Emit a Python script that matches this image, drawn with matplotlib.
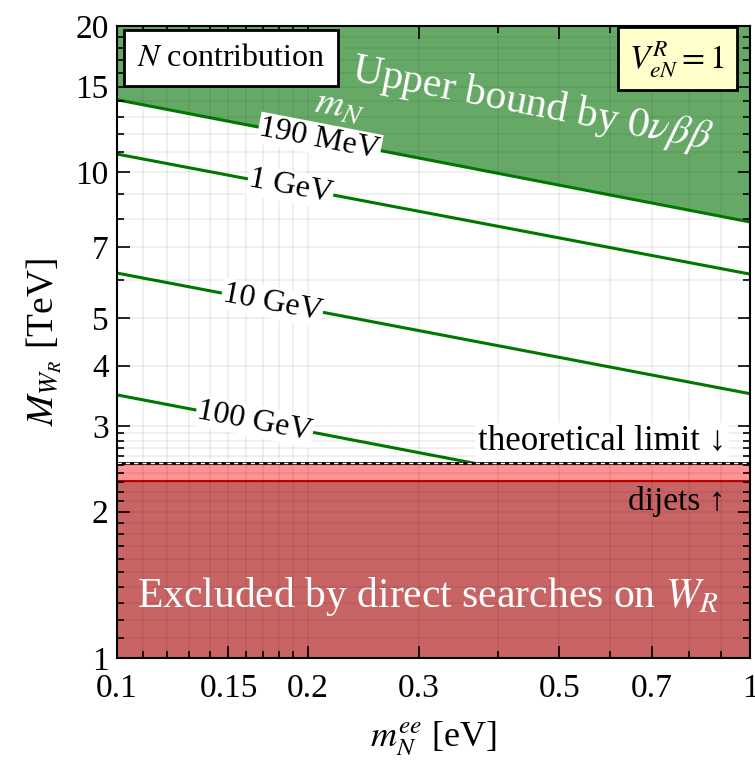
import numpy as np
import matplotlib
matplotlib.use('Agg')
import matplotlib.pyplot as plt
from matplotlib.ticker import FixedLocator, FixedFormatter, NullFormatter

plt.rcParams['font.family'] = ['Liberation Serif', 'DejaVu Serif']
plt.rcParams['mathtext.fontset'] = 'stix'

# data (line values at m_ee = 0.1 and 1 eV)
m_ee = np.array([0.1, 1.0])
mw_190MeV = np.array([14.1, 7.9])
mw_1GeV = np.array([10.9, 6.17])
mw_10GeV = np.array([6.2, 3.5])
mw_100GeV = np.array([3.48, 1.96])
line_names = ['190 MeV', '1 GeV', '10 GeV', '100 GeV']
label_x = [0.209, 0.188, 0.176, 0.165]   # where the labels sit on the lines

theory_limit = 2.52   # TeV
dijets = 2.31         # TeV

xticks = [0.1, 0.15, 0.2, 0.3, 0.5, 0.7, 1]
xtick_labels = ['0.1', '0.15', '0.2', '0.3', '0.5', '0.7', '1']
yticks = [1, 2, 3, 4, 5, 7, 10, 15, 20]

green_fill = '#66a966'
green_line = '#007800'
red_dark = '#c96464'
red_light = '#ff9292'

fig = plt.figure(figsize=(7.55, 7.61), dpi=100)
ax = fig.add_axes([0.155, 0.1354, 0.8384, 0.8304])
ax.set_xscale('log')
ax.set_yscale('log')
ax.set_xlim(0.1, 1)
ax.set_ylim(1, 20)

# upper bound region above the 190 MeV line
ax.fill_between(m_ee, mw_190MeV, 20, color=green_fill, lw=0, zorder=1)

lines = [mw_190MeV, mw_1GeV, mw_10GeV, mw_100GeV]

def slope_angle(y):
    # angle of a power-law line on screen
    p0 = ax.transData.transform((m_ee[0], y[0]))
    p1 = ax.transData.transform((m_ee[1], y[1]))
    return np.degrees(np.arctan2(p1[1] - p0[1], p1[0] - p0[0]))

for y, name, lx in zip(lines, line_names, label_x):
    # cut line at theoretical limit (interpolate in log space)
    ly = np.log10(y)
    lxs = np.log10(m_ee)
    if y[1] < theory_limit:
        x_end = 10 ** np.interp(np.log10(theory_limit), ly[::-1], lxs[::-1])
        xs = np.array([m_ee[0], x_end])
        ys = np.array([y[0], theory_limit])
    else:
        xs, ys = m_ee, y
    ax.plot(xs, ys, color=green_line, lw=2.2, zorder=1.5)
    ly_at = 10 ** np.interp(np.log10(lx), lxs, ly)
    ax.text(lx, ly_at, name, rotation=slope_angle(y), rotation_mode='anchor',
            ha='center', va='center', fontsize=23, zorder=5,
            bbox=dict(facecolor='white', edgecolor='none', pad=1))

ang = slope_angle(mw_190MeV)
ax.text(0.222, 12.55, '$m_N$', color='white', fontsize=28, rotation=ang,
        rotation_mode='anchor', ha='center', va='bottom', zorder=6)
ax.text(0.452, 13.8, 'Upper bound by $0\\nu\\beta\\beta$', color='white',
        fontsize=30, rotation=ang, rotation_mode='anchor',
        ha='center', va='center', zorder=5)

# direct search exclusions
ax.axhspan(1, theory_limit, color=red_light, lw=0, zorder=2)
ax.axhspan(1, dijets, color=red_dark, lw=0, zorder=2.1)
ax.axhline(dijets, color='#c00000', lw=1.5, zorder=2.2)
ax.axhline(theory_limit, color='black', lw=2, zorder=2.2)
ax.axhline(theory_limit, color='white', lw=1, ls=(0, (3, 3)), zorder=2.3)

ax.text(0.491, 0.0965, 'Excluded by direct searches on $W_R$', color='white',
        fontsize=30, ha='center', va='center', transform=ax.transAxes, zorder=5)
ax.text(0.962, 0.342, 'theoretical limit \u2193', fontsize=25, ha='right',
        va='center', transform=ax.transAxes, zorder=5,
        bbox=dict(facecolor='white', edgecolor='none', pad=2))
ax.text(0.962, 0.248, 'dijets \u2191', fontsize=24, ha='right', va='center',
        transform=ax.transAxes, zorder=5)

# boxes
ax.text(0.18, 0.949, '$N$ contribution', fontsize=23, ha='center', va='center',
        transform=ax.transAxes, zorder=6,
        bbox=dict(boxstyle='square,pad=0.42', facecolor='white',
                  edgecolor='black', lw=2))
ax.text(0.885, 0.948, '$V_{eN}^R=1$', fontsize=24, ha='center', va='center',
        transform=ax.transAxes, zorder=6,
        bbox=dict(boxstyle='square,pad=0.35', facecolor='#ffffcc',
                  edgecolor='black', lw=2))

# ticks and grid
ax.xaxis.set_major_locator(FixedLocator(xticks))
ax.xaxis.set_major_formatter(FixedFormatter(xtick_labels))
ax.xaxis.set_minor_locator(FixedLocator(
    [v for v in np.r_[np.arange(0.11, 0.2, 0.01), np.arange(0.3, 1.0, 0.1)]]))
ax.xaxis.set_minor_formatter(NullFormatter())
ax.yaxis.set_major_locator(FixedLocator(yticks))
ax.yaxis.set_major_formatter(FixedFormatter([str(v) for v in yticks]))
ax.yaxis.set_minor_locator(FixedLocator(
    list(np.arange(1.1, 3.0, 0.1)) + list(range(3, 20))))
ax.yaxis.set_minor_formatter(NullFormatter())
ax.tick_params(which='both', direction='in', top=True, right=True,
               labelsize=24, width=1.2)
ax.tick_params(which='major', length=9)
ax.tick_params(axis='x', which='major', pad=11)
ax.tick_params(axis='y', which='major', pad=6)
ax.tick_params(which='minor', length=5)
ax.set_axisbelow(False)
ax.grid(which='both', color='black', alpha=0.07, lw=1.2)

for s in ax.spines.values():
    s.set_linewidth(1.5)
    s.set_zorder(7)

ax.set_xlabel('$m_N^{ee}$ [eV]', fontsize=26, labelpad=11)
ax.set_ylabel('$M_{W_R}$ [TeV]', fontsize=27, labelpad=8)

fig.savefig('out.png', dpi=100)
